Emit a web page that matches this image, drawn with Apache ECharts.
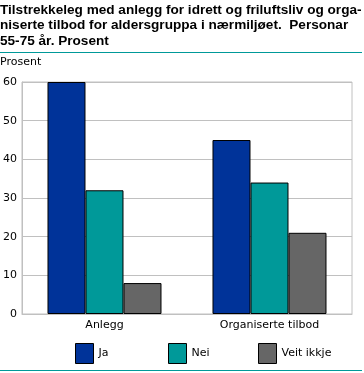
<!DOCTYPE html>
<html><head><meta charset="utf-8">
<script src="https://cdn.jsdelivr.net/npm/echarts@6/dist/echarts.min.js"></script>
<style>html,body{margin:0;padding:0;background:#fff}#c{width:364px;height:373px}</style>
</head><body><div id="c"></div>
<script>
const categories = ['Anlegg', 'Organiserte tilbod'];
const seriesNames = ['Ja', 'Nei', 'Veit ikkje'];
const ja = [60, 45];
const nei = [32, 34];
const veit = [8, 21];
const yTicks = [0, 10, 20, 30, 40, 50, 60];
const titleLines = ['Tilstrekkeleg med anlegg for idrett og friluftsliv og orga-', 'niserte tilbod for aldersgruppa i nærmiljøet.  Personar', '55-75 år. Prosent'];
const colors = ['#003399', '#009999', '#666666'];
const chart = echarts.init(document.getElementById('c'), null, {renderer: 'canvas'});
const values = [ja, nei, veit];
const legendX = [75, 168, 258];
chart.setOption({
  animation: false,
  title: {text: titleLines.join('\n'), left: 0, top: 2, padding: 0,
    textStyle: {fontFamily: '"Liberation Sans"', fontWeight: 'bold', fontSize: 13.6, lineHeight: 15.5, color: '#000'}},
  graphic: [
    {type: 'rect', shape: {x: 0, y: 52, width: 362, height: 1}, style: {fill: '#009999'}},
    {type: 'rect', shape: {x: 0, y: 370, width: 362, height: 1}, style: {fill: '#009999'}},
    {type: 'text', left: 0, top: 57, style: {text: 'Prosent', font: '11px "DejaVu Sans"', fill: '#000'}}
  ],
  legend: seriesNames.map((n, i) => ({
    data: [n], left: legendX[i], top: 343, padding: 0, itemWidth: 18, itemHeight: 20,
    icon: 'rect', itemStyle: {borderColor: '#000', borderWidth: 1},
    textStyle: {fontFamily: '"DejaVu Sans"', fontSize: 11, color: '#000', padding: [4, 0, 0, 0]}, selectedMode: false
  })),
  grid: {left: 21, right: 12, top: 82, bottom: 59, show: true, borderColor: '#c0c0c0', borderWidth: 1},
  xAxis: {type: 'category', data: categories,
    axisLine: {lineStyle: {color: '#c0c0c0'}}, axisTick: {show: false},
    axisLabel: {color: '#000', fontFamily: '"DejaVu Sans"', fontSize: 11, margin: 6}},
  yAxis: {type: 'value', min: yTicks[0], max: yTicks[yTicks.length - 1], interval: 10,
    axisLine: {show: true, lineStyle: {color: '#c0c0c0'}}, axisTick: {show: false},
    splitLine: {lineStyle: {color: '#c0c0c0'}},
    axisLabel: {color: '#000', fontFamily: '"DejaVu Sans"', fontSize: 11, margin: 5}},
  series: seriesNames.map((n, i) => ({
    name: n, type: 'bar', data: values[i], barWidth: 38, barGap: '0%',
    itemStyle: {color: colors[i], borderColor: '#000', borderWidth: 1}
  }))
});
</script></body></html>
